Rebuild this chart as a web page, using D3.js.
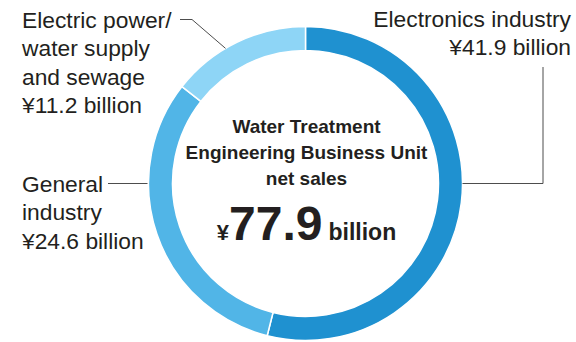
<!DOCTYPE html>
<html><head><meta charset="utf-8">
<script src="https://cdn.jsdelivr.net/npm/d3@7"></script>
<style>body{margin:0;background:#fff}svg{display:block}text{font-family:"Liberation Sans",Arial,sans-serif;fill:#231f20}</style>
</head><body>
<svg id="c" width="576" height="342"></svg>
<script>
const categories = ["Electronics industry", "General industry", "Electric power/water supply and sewage"];
const values = [41.9, 24.6, 11.2];
const colors = ["#1f91d0", "#51b5e7", "#8ed5f6"];
const labelLines = [
  ["Electronics industry", "¥41.9 billion"],
  ["General", "industry", "¥24.6 billion"],
  ["Electric power/", "water supply", "and sewage", "¥11.2 billion"]
];
const totalValue = 77.9;

const svg = d3.select("#c");
const cx = 305.5, cy = 183.5, rO = 157, rI = 133;
const g = svg.append("g").attr("transform", `translate(${cx},${cy})`);
const pie = d3.pie().sort(null).value(d => d)(values);
const arc = d3.arc().innerRadius(rI).outerRadius(rO);
g.selectAll("path").data(pie).join("path")
  .attr("d", arc).attr("fill", (d, i) => colors[i])
  .attr("stroke", "#fff").attr("stroke-width", 1.5);

// leader lines
const lc = "#4d4d4d";
function onRing(angle) { return [cx + rO * Math.sin(angle), cy - rO * Math.cos(angle)]; }
const pE = onRing(Math.PI / 2);
svg.append("polyline").attr("points", `${pE[0]},${pE[1]} 543,${pE[1]} 543,67`)
  .attr("fill", "none").attr("stroke", lc).attr("stroke-width", 1);
const pG = onRing(-Math.PI / 2);
svg.append("polyline").attr("points", `${pG[0] - 1},${pG[1]} 108,${pG[1]}`)
  .attr("fill", "none").attr("stroke", lc).attr("stroke-width", 1);
const aP = pie[2].startAngle + 0.41 * (pie[2].endAngle - pie[2].startAngle);
const pP = onRing(aP);
svg.append("polyline").attr("points", `${pP[0]},${pP[1]} 192,19.5 180,19.5`)
  .attr("fill", "none").attr("stroke", lc).attr("stroke-width", 1);

const fs = 22.8, lh = 28.3;
function block(lines, x, y0, anchor) {
  const t = svg.append("text").attr("font-size", fs).attr("text-anchor", anchor);
  lines.forEach((s, i) => t.append("tspan").attr("x", x).attr("y", y0 + i * lh).text(s));
}
block(labelLines[0], 571, 27, "end");
block(labelLines[1], 22, 192, "start");
block(labelLines[2], 22, 28, "start");

// center text
const ct = svg.append("text").attr("text-anchor", "middle").attr("font-weight", "bold").attr("font-size", 19);
["Water Treatment", "Engineering Business Unit", "net sales"].forEach((s, i) =>
  ct.append("tspan").attr("x", cx + 1).attr("y", 133 + i * 26).text(s));
const big = svg.append("text").attr("text-anchor", "middle").attr("y", 240).attr("x", cx + 1).attr("font-weight", "bold");
big.append("tspan").attr("font-size", 22).text("¥");
big.append("tspan").attr("font-size", 48).text(totalValue.toFixed(1));
big.append("tspan").attr("font-size", 23).attr("dx", 6).text("billion");
</script>
</body></html>
